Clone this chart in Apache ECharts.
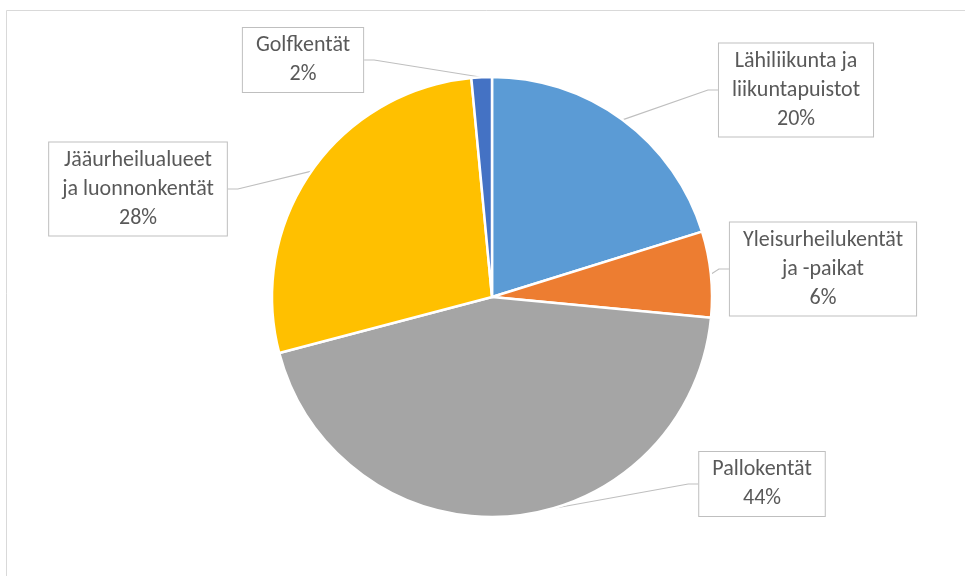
<!DOCTYPE html>
<html>
<head>
<meta charset="utf-8">
<script src="https://cdn.jsdelivr.net/npm/echarts@6/dist/echarts.min.js"></script>
<style>
  html, body { margin: 0; padding: 0; background: #fff; }
  #chart { width: 965px; height: 576px; }
</style>
</head>
<body>
<div id="chart"></div>
<script>
// Liikuntapaikkojen jakauma tyypeittäin
const categories = [
  'Lähiliikunta ja\nliikuntapuistot',
  'Yleisurheilukentät\nja -paikat',
  'Pallokentät',
  'Jääurheilualueet\nja luonnonkentät',
  'Golfkentät'
];
const shares = [20.2, 6.3, 44.4, 27.6, 1.5];
const sliceColors = ['#5B9BD5', '#ED7D31', '#A5A5A5', '#FFC000', '#4472C4'];

// Label box centres (px), one per category
const labelCentres = [
  [796, 90],
  [823, 269],
  [762, 484],
  [138, 189],
  [303, 60]
];

const chart = echarts.init(document.getElementById('chart'), null, { renderer: 'canvas' });

chart.setOption({
  backgroundColor: '#ffffff',
  animation: false,
  graphic: [{
    type: 'rect',
    shape: { x: 6.5, y: 10.5, width: 980, height: 600 },
    style: { fill: 'none', stroke: '#d9d9d9', lineWidth: 1 },
    silent: true
  }],
  series: [{
    type: 'pie',
    center: [492, 297],
    radius: 220,
    startAngle: 90,
    clockwise: true,
    percentPrecision: 0,
    data: categories.map((name, i) => ({
      name: name,
      value: shares[i],
      itemStyle: { color: sliceColors[i] }
    })),
    itemStyle: { borderColor: '#ffffff', borderWidth: 2.5 },
    label: {
      show: true,
      position: 'outside',
      formatter: '{b}\n{d}%',
      fontFamily: 'Carlito, Lato, sans-serif',
      fontSize: 22,
      lineHeight: 29,
      color: '#595959',
      align: 'center',
      backgroundColor: '#ffffff',
      borderColor: '#bfbfbf',
      borderWidth: 1,
      padding: [3, 13, 3, 13]
    },
    labelLine: {
      show: true,
      length: 20,
      length2: 10,
      lineStyle: { color: '#bfbfbf', width: 1.2 }
    },
    labelLayout: function (params) {
      const c = labelCentres[params.dataIndex];
      return {
        x: c[0],
        y: c[1],
        align: 'center',
        verticalAlign: 'middle'
      };
    },
    emphasis: { disabled: true }
  }]
});
</script>
</body>
</html>
